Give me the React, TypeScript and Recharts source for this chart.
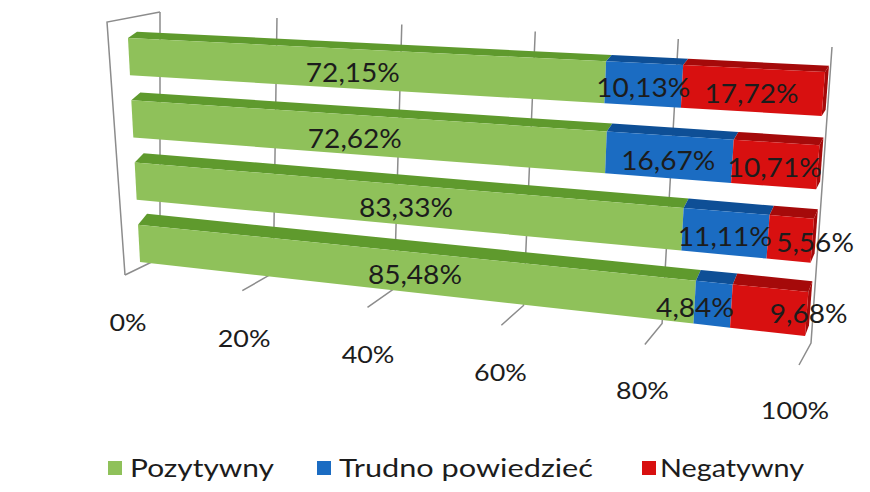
import { Bar, BarChart, CartesianGrid, LabelList, XAxis, YAxis } from "recharts"

const groups = ["KM", "UM", "SZLOT", "SAPIK"]
const positive = [72.15, 72.62, 83.33, 85.48]
const unsure = [10.13, 16.67, 11.11, 4.84]
const negative = [17.72, 10.71, 5.56, 9.68]
const ticks = [0, 20, 40, 60, 80, 100]

const data = groups.map((name, i) => ({
  name,
  pos: positive[i],
  unsure: unsure[i],
  neg: negative[i],
}))

const series = [
  { key: "pos", name: "Pozytywny", values: positive, front: "#8fc15a", top: "#5f9a2d" },
  { key: "unsure", name: "Trudno powiedzieć", values: unsure, front: "#1b6cc2", top: "#0e4f96" },
  { key: "neg", name: "Negatywny", values: negative, front: "#d81010", top: "#a50a0a" },
]

const FONT = "Lato, 'Open Sans', sans-serif"

// plot rect that recharts works in, then warped into the 3d-ish view
const L = 100
const T = 20
const W = 700
const H = 300

const persp = (u: number) => (0.843 * u) / (1 - 0.157 * u)

function proj(px: number, py: number): [number, number] {
  const u = persp((px - L) / W)
  const v = (py - T) / H
  const lx = 127.3 + 13.4 * v
  const ly = 25.6 + 248.8 * v
  const rx = 826.1 - 22.2 * v
  const ry = 57.3 + 293.4 * v
  return [lx + (rx - lx) * u, ly + (ry - ly) * u]
}

function depth(px: number, py: number): [number, number] {
  const u = persp((px - L) / W)
  const v = (py - T) / H
  return [9 - 5 * u, -(6 + 6 * v)]
}

const pts = (arr: number[][]) => arr.map((q) => q.join(",")).join(" ")

const makeShape = (front: string, top: string, last: boolean) => (p: any) => {
  const { x, y, width, height } = p
  const a = proj(x, y)
  const b = proj(x + width, y)
  const c = proj(x + width, y + height)
  const d = proj(x, y + height)
  const da = depth(x, y)
  const db = depth(x + width, y)
  const a2 = [a[0] + da[0], a[1] + da[1]]
  const b2 = [b[0] + db[0], b[1] + db[1]]
  const c2 = [c[0] + db[0], c[1] + db[1]]
  return (
    <g>
      <polygon points={pts([a, b, b2, a2])} fill={top} />
      {last && <polygon points={pts([b, b2, c2, c])} fill={top} />}
      <polygon points={pts([a, b, c, d])} fill={front} />
    </g>
  )
}

const fmt = (v: number) => v.toFixed(2).replace(".", ",") + "%"

// excel nudged a few labels sideways in the bottom rows
const nudge: Record<string, number> = {
  "2:pos": 16,
  "2:neg": 25,
  "3:pos": 18,
  "3:unsure": -18,
  "3:neg": 40,
}

const makeLabel = (key: string, values: number[]) => (p: any) => {
  const { x, y, width, height, value } = p
  const row = typeof p.index === "number" ? p.index : values.indexOf(Number(value))
  const dx = nudge[`${row}:${key}`] || 0
  const [cx, cy] = proj(x + width / 2, y + height / 2)
  return (
    <text
      transform={`translate(${cx + dx},${cy + 3}) scale(1.08,1)`}
      textAnchor="middle"
      dominantBaseline="central"
      fontFamily={FONT}
      fontSize={26}
      fill="#1c1c1c"
    >
      {fmt(Number(value))}
    </text>
  )
}

const CatTick = (p: any) => {
  const { y, payload } = p
  const v = (y - T) / H
  const ty = proj(L, y)[1] + 4
  return (
    <text
      transform={`translate(${80 + 16 * v},${ty}) scale(1.15,1)`}
      textAnchor="end"
      dominantBaseline="central"
      fontFamily={FONT}
      fontSize={23}
      fill="#1c1c1c"
    >
      {payload.value}
    </text>
  )
}

const PctTick = (p: any) => {
  const { x, payload } = p
  const u = persp((x - L) / W)
  return (
    <text
      transform={`translate(${128 + 667 * u},${322 + 88 * u}) scale(1.12,1)`}
      textAnchor="middle"
      dominantBaseline="central"
      fontFamily={FONT}
      fontSize={24}
      fill="#1c1c1c"
    >
      {payload.value}%
    </text>
  )
}

const GRID = "#8c8c8c"

const GridLine = (p: any) => {
  const u = persp((p.x1 - L) / W)
  const bt = [160 + 672 * u, 12 + 35 * u]
  const bb = [160 + 651 * u, 258 + 85 * u]
  const ff = [125 + 674 * u, 275 + 90 * u]
  return (
    <g key={p.key} stroke={GRID} strokeWidth={1.5} fill="none">
      <polyline points={pts([bt, bb, ff])} />
      {u < 0.001 && <polyline points={pts([[160, 12], [107, 22], [125, 275]])} />}
    </g>
  )
}

const legendPos = [
  { sq: 108, tx: 130, w: 144 },
  { sq: 317, tx: 339, w: 254 },
  { sq: 642, tx: 660, w: 144 },
]

export default function App() {
  return (
    <div style={{ position: "absolute", left: 0, top: 0, width: 870, height: 492, background: "#fff" }}>
      <BarChart
        width={870}
        height={492}
        data={data}
        layout="vertical"
        barSize={45}
        margin={{ top: T, right: 870 - L - W, bottom: 492 - T - H - 30, left: L }}
      >
        <CartesianGrid horizontal={false} vertical={GridLine} />
        <XAxis
          type="number"
          domain={[0, 100]}
          ticks={ticks}
          height={30}
          axisLine={false}
          tickLine={false}
          tick={PctTick}
          interval={0}
        />
        <YAxis
          type="category"
          dataKey="name"
          width={0}
          axisLine={false}
          tickLine={false}
          tick={CatTick}
          interval={0}
        />
        {series.map((s, i) => (
          <Bar
            key={s.key}
            dataKey={s.key}
            name={s.name}
            stackId="a"
            fill={s.front}
            isAnimationActive={false}
            shape={makeShape(s.front, s.top, i === series.length - 1)}
          >
            <LabelList dataKey={s.key} content={makeLabel(s.key, s.values)} />
          </Bar>
        ))}
      </BarChart>
      <svg width={870} height={40} style={{ position: "absolute", left: 0, top: 450 }}>
        {series.map((s, i) => (
          <g key={s.key}>
            <rect x={legendPos[i].sq} y={11} width={14} height={14} fill={s.front} />
            <text
              x={legendPos[i].tx}
              y={27}
              fontFamily={FONT}
              fontSize={25}
              fill="#1c1c1c"
              textLength={legendPos[i].w}
              lengthAdjust="spacingAndGlyphs"
            >
              {s.name}
            </text>
          </g>
        ))}
      </svg>
    </div>
  )
}
